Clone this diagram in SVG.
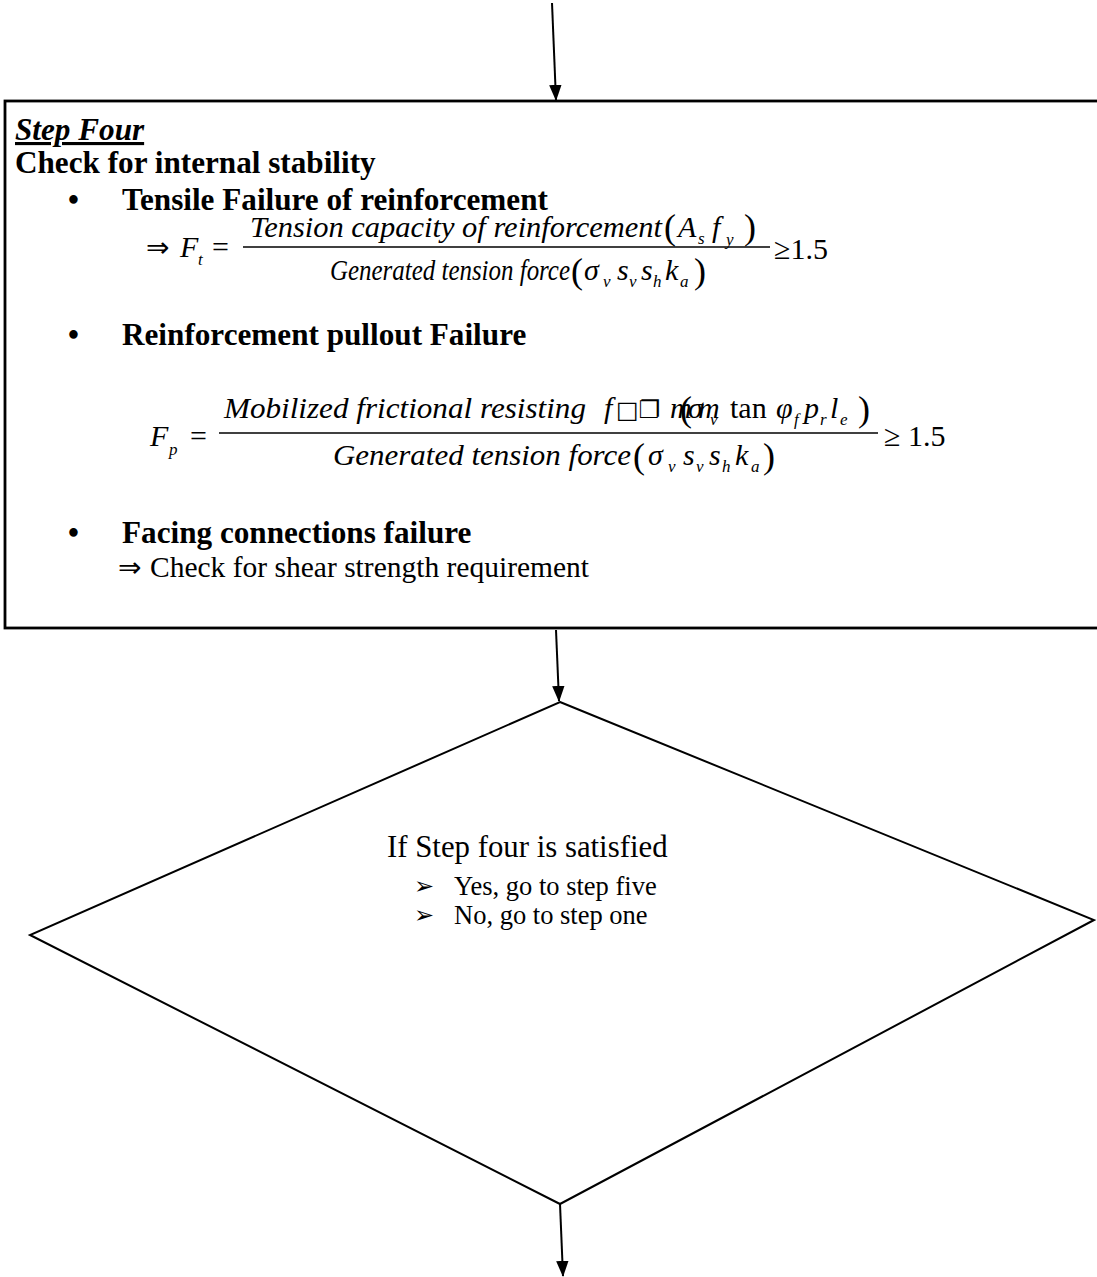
<svg xmlns="http://www.w3.org/2000/svg" width="1097" height="1277" viewBox="0 0 1097 1277">
<defs>
<marker id="ah" markerUnits="userSpaceOnUse" markerWidth="16" markerHeight="18" viewBox="0 0 18 16" refX="17" refY="8" orient="auto">
<path d="M0,1 L18,8 L0,15 Z" fill="#000"/>
</marker>
</defs>
<style>
text{font-family:"Liberation Serif","Times New Roman",serif;fill:#000}
.b{font-size:31.2px;font-weight:bold}
.r{font-size:30px}
.p{font-size:36px}
.i{font-size:30px;font-style:italic}
.sub{font-size:17px;font-style:italic}
.sym{font-family:"DejaVu Sans","Liberation Serif",serif;font-size:28px}
.bul{font-family:"DejaVu Sans","Liberation Serif",serif;font-size:24px}
.node{fill:#fff;stroke:#000;stroke-width:2.8}
.dia{fill:#fff;stroke:#000;stroke-width:2}
.conn{stroke:#000;stroke-width:2;fill:none}
.frac{stroke:#000;stroke-width:1.5}
</style>
<g id="step-four">
<rect class="node" x="5" y="101" width="1100" height="527"/>
<text class="b" x="15" y="140" font-style="italic" text-decoration="underline">Step Four</text>
<text class="b" x="15" y="173">Check for internal stability</text>
<text class="b" x="68" y="210">•</text>
<text class="b" x="122" y="210">Tensile Failure of reinforcement</text>
<text class="sym" x="146" y="257">⇒</text>
<text class="i" x="180" y="257">F</text>
<text class="sub" x="198" y="265">t</text>
<text class="r" x="212" y="257">=</text>
<line class="frac" x1="243" y1="247" x2="770" y2="247"/>
<text class="i" x="250" y="237" textLength="412" lengthAdjust="spacingAndGlyphs">Tension capacity of  reinforcement</text>
<text class="p" x="664" y="239">(</text>
<text class="i" x="678" y="237">A</text>
<text class="sub" x="698" y="244">s</text>
<text class="i" x="712" y="237">f</text>
<text class="sub" x="726" y="245">y</text>
<text class="p" x="744" y="239">)</text>
<text class="i" x="330" y="280" textLength="240" lengthAdjust="spacingAndGlyphs">Generated  tension  force</text>
<text class="p" x="571" y="283">(</text>
<text class="i" x="584" y="280">σ</text>
<text class="sub" x="603" y="287">v</text>
<text class="i" x="617" y="280">s</text>
<text class="sub" x="629" y="287">v</text>
<text class="i" x="641" y="280">s</text>
<text class="sub" x="653" y="287">h</text>
<text class="i" x="665" y="280">k</text>
<text class="sub" x="680" y="287">a</text>
<text class="p" x="694" y="283">)</text>
<text class="r" x="774" y="259">≥1.5</text>
<text class="b" x="68" y="345">•</text>
<text class="b" x="122" y="345">Reinforcement pullout Failure</text>
<text class="i" x="150" y="446">F</text>
<text class="sub" x="169" y="455">p</text>
<text class="r" x="190" y="446">=</text>
<line class="frac" x1="219" y1="433" x2="878" y2="433"/>
<text class="i" x="224" y="418" textLength="362" lengthAdjust="spacingAndGlyphs">Mobilized  frictional  resisting</text>
<text class="i" x="604" y="418">f</text>
<text class="bul" x="616" y="418">□❐</text>
<text class="i" x="670" y="418">m</text>
<text class="p" x="680" y="421">(</text>
<text class="i" x="688" y="418">σ</text>
<text class="i" x="698" y="418">m</text>
<text class="sub" x="710" y="425">v</text>
<text class="r" x="730" y="418">tan</text>
<text class="i" x="776" y="418">φ</text>
<text class="sub" x="794" y="425">f</text>
<text class="i" x="804" y="418">p</text>
<text class="sub" x="820" y="425">r</text>
<text class="i" x="830" y="418">l</text>
<text class="sub" x="840" y="425">e</text>
<text class="p" x="858" y="421">)</text>
<text class="i" x="333" y="465" textLength="298" lengthAdjust="spacingAndGlyphs">Generated  tension  force</text>
<text class="p" x="633" y="468">(</text>
<text class="i" x="648" y="465">σ</text>
<text class="sub" x="668" y="472">v</text>
<text class="i" x="683" y="465">s</text>
<text class="sub" x="696" y="472">v</text>
<text class="i" x="709" y="465">s</text>
<text class="sub" x="722" y="472">h</text>
<text class="i" x="735" y="465">k</text>
<text class="sub" x="751" y="472">a</text>
<text class="p" x="763" y="468">)</text>
<text class="r" x="884" y="446">≥  1.5</text>
<text class="b" x="68" y="543">•</text>
<text class="b" x="122" y="543">Facing connections failure</text>
<text class="sym" x="118" y="577">⇒</text>
<text class="r" x="150" y="577" style="font-size:29.5px">Check for shear strength requirement</text>
</g>
<g id="decision">
<polygon class="dia" points="560,702 1094,920 560,1204 30,935"/>
<text class="r" x="387" y="857" style="font-size:30.8px">If Step four is satisfied</text>
<text class="bul" x="414" y="894">➢</text>
<text class="r" x="454" y="895" style="font-size:26.5px">Yes, go to step five</text>
<text class="bul" x="414" y="923">➢</text>
<text class="r" x="454" y="924" style="font-size:26.5px">No, go to step one</text>
</g>
<g id="connectors">
<line class="conn" x1="552" y1="3" x2="556" y2="100" marker-end="url(#ah)"/>
<line class="conn" x1="556" y1="630" x2="559" y2="701" marker-end="url(#ah)"/>
<line class="conn" x1="560" y1="1204" x2="563" y2="1276" marker-end="url(#ah)"/>
</g>
</svg>
